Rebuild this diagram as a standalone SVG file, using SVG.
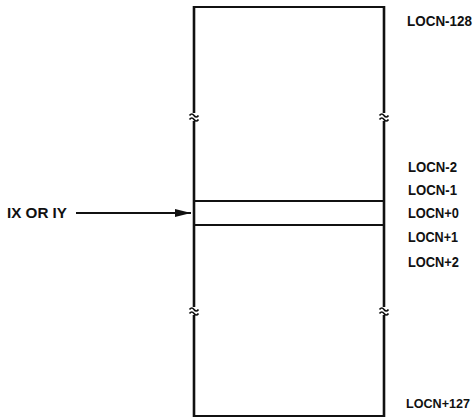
<svg xmlns="http://www.w3.org/2000/svg" width="476" height="419" viewBox="0 0 476 419">
<style>
.t{font-family:"Liberation Sans",Arial,sans-serif;font-weight:bold;font-size:14.5px;fill:#111}
.v{stroke:#111;stroke-width:2.6;fill:none}
.h{stroke:#111;stroke-width:2.2;fill:none}
.brk{stroke:#111;stroke-width:1.7;fill:none}
</style>
<defs>
<marker id="ah" markerWidth="16" markerHeight="8" refX="16" refY="4" orient="auto" markerUnits="userSpaceOnUse">
<path d="M0,0 L16,4 L0,8 Z" fill="#111"/>
</marker>
<g id="brk">
<rect x="-4" y="-4" width="8" height="8" fill="#fff"/>
<path class="brk" d="M-4.5,-1.5 q2.25,-3 4.5,0 t4.5,0 M-4.5,2.5 q2.25,-3 4.5,0 t4.5,0"/>
</g>
</defs>
<g id="memory">
<path class="v" d="M194,6 V417 M384,6 V417"/>
<path class="h" d="M193,7 H385 M193,416 H385"/>
<use href="#brk" x="194" y="117"/>
<use href="#brk" x="384" y="117"/>
<use href="#brk" x="194" y="311"/>
<use href="#brk" x="384" y="311"/>
</g>
<g id="locn0">
<path class="h" d="M194,201 H384 M194,225 H384"/>
</g>
<g id="connectors">
<line x1="76" y1="213" x2="191" y2="213" stroke="#111" stroke-width="2" marker-end="url(#ah)"/>
</g>
<g id="labels">
<text class="t" x="7" y="218" textLength="60" lengthAdjust="spacingAndGlyphs">IX OR IY</text>
<text class="t" x="407" y="26" textLength="65" lengthAdjust="spacingAndGlyphs">LOCN-128</text>
<text class="t" x="408" y="172" textLength="49" lengthAdjust="spacingAndGlyphs">LOCN-2</text>
<text class="t" x="408" y="195" textLength="49" lengthAdjust="spacingAndGlyphs">LOCN-1</text>
<text class="t" x="408" y="218" textLength="51" lengthAdjust="spacingAndGlyphs">LOCN+0</text>
<text class="t" x="408" y="242" textLength="50" lengthAdjust="spacingAndGlyphs">LOCN+1</text>
<text class="t" x="408" y="267" textLength="51" lengthAdjust="spacingAndGlyphs">LOCN+2</text>
<text class="t" x="406" y="408" style="font-size:13px" textLength="64" lengthAdjust="spacingAndGlyphs">LOCN+127</text>
</g>
</svg>
